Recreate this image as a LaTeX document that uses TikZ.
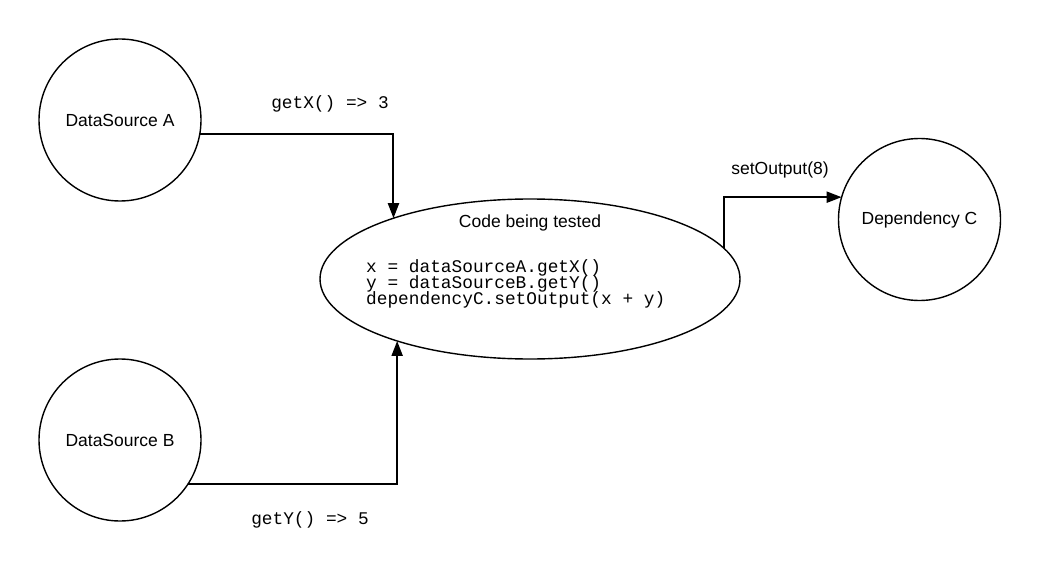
\documentclass[tikz,border=0pt]{standalone}
\usepackage{fontspec}
\setmainfont{Liberation Sans}
\newfontfamily\codefont{Liberation Mono}
\usetikzlibrary{arrows.meta,shapes.geometric}
\newcommand\labfont{\fontsize{17.5}{21}\selectfont}
\newcommand\cfont{\codefont\fontsize{17.8}{16.5}\selectfont}
\begin{document}
\begin{tikzpicture}[x=1pt,y=-1pt,
  circ/.style={circle, draw, line width=1.4pt, minimum size=162pt, inner sep=0pt, outer sep=0pt, font=\labfont},
  ell/.style={ellipse, draw, line width=1.4pt, minimum width=420pt, minimum height=160pt, inner sep=0pt, outer sep=0pt},
  arr/.style={-{Triangle[length=15pt,width=11pt]}, line width=2pt},
  lab/.style={font=\labfont, inner sep=0pt},
  code/.style={font=\cfont, inner sep=0pt, anchor=base west}]
\path[use as bounding box, fill=white] (0,0) rectangle (1040,580);

\node[circ] (A) at (120,120) {DataSource A};
\node[circ] (B) at (120,440) {DataSource B};
\node[circ] (C) at (919.5,219.5) {Dependency C};
\node[ell] (E) at (530,279) {};

\node[lab] (title) at (530,223) {Code being tested};
\node[code] (c1) at (366,272) {x = dataSourceA.getX()};
\node[code] (c2) at (366,288) {y = dataSourceB.getY()};
\node[code] (c3) at (366,304) {dependencyC.setOutput(x + y)};

\draw[arr] (A.-10) -| (E.156.2);
\draw[arr] (B.-33.8) -| (E.205.5);
\draw[arr] (E.9.27) |- (C.164.5);

\node[font=\cfont, inner sep=0pt] (lx) at (330,104) {getX() => 3};
\node[font=\cfont, inner sep=0pt] (ly) at (310,520) {getY() => 5};
\node[lab] (lo) at (780,170) {setOutput(8)};
\end{tikzpicture}
\end{document}
